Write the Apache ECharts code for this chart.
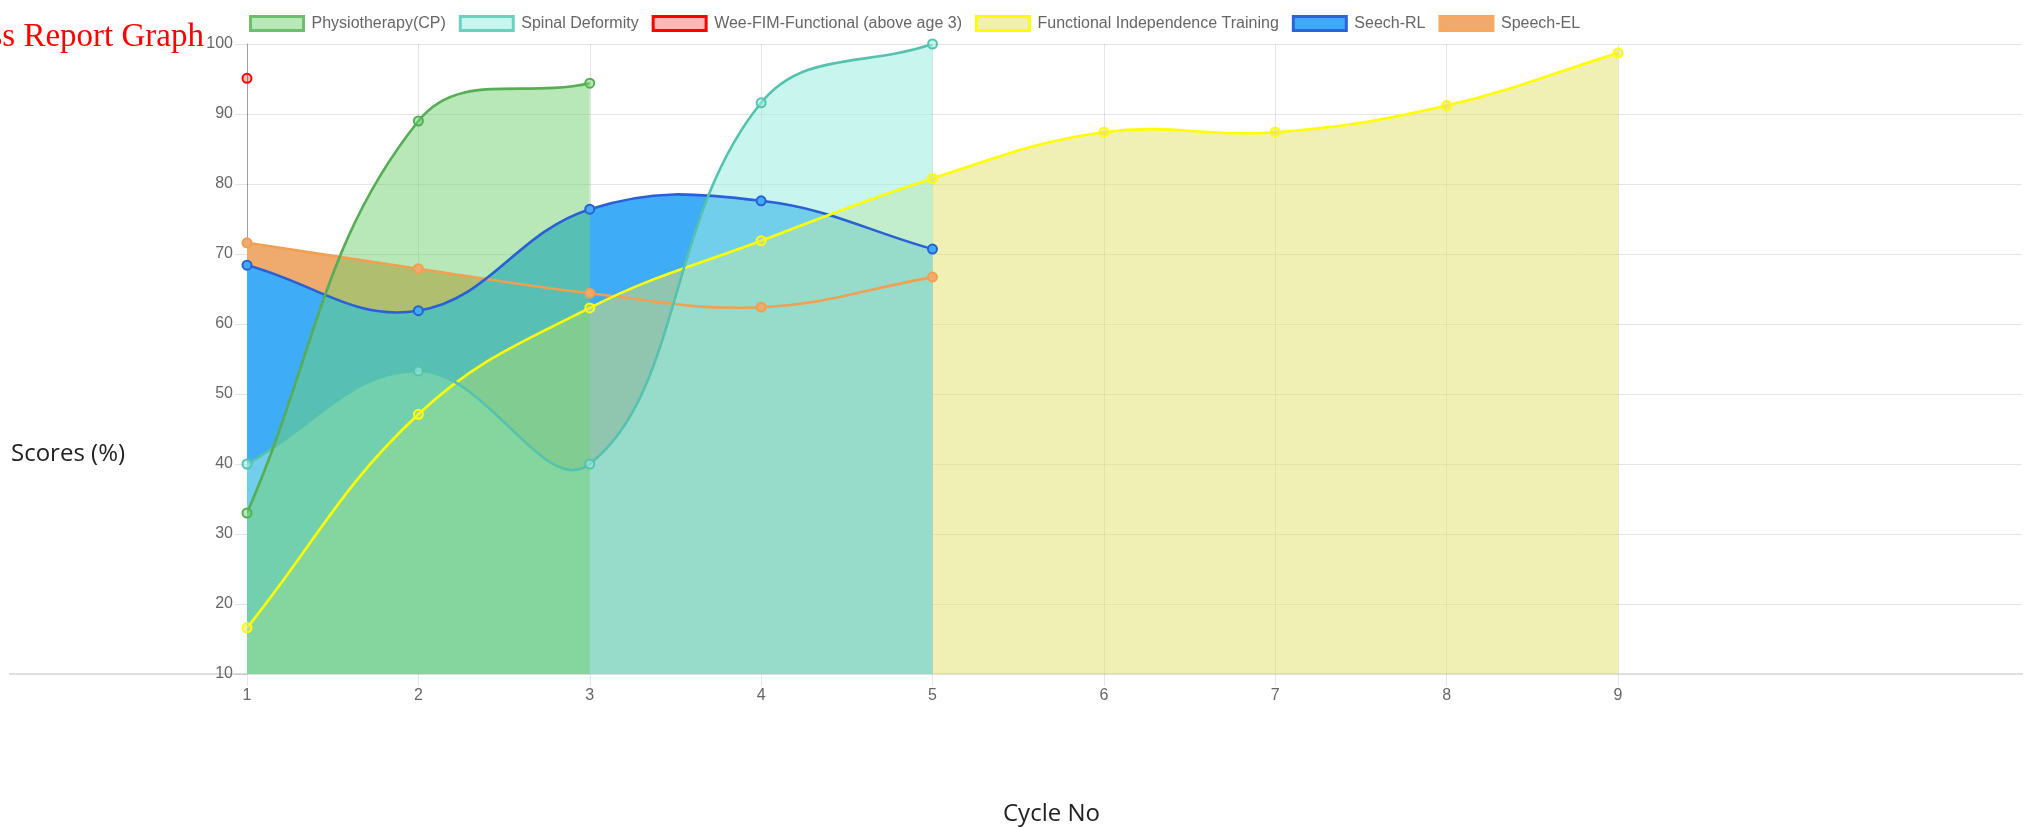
<!DOCTYPE html>
<html>
<head>
<meta charset="utf-8">
<script src="https://cdn.jsdelivr.net/npm/echarts@6/dist/echarts.min.js"></script>
<style>
html,body{margin:0;padding:0;background:#fff;}
#chart{width:2036px;height:827px;}
</style>
</head>
<body>
<div id="chart"></div>
<script>
// ---- data ----
const categories = [1, 2, 3, 4, 5, 6, 7, 8, 9];
const yTicks = [10, 20, 30, 40, 50, 60, 70, 80, 90, 100];
const seriesNames = ['Physiotherapy(CP)', 'Spinal Deformity', 'Wee-FIM-Functional (above age 3)', 'Functional Independence Training', 'Seech-RL', 'Speech-EL'];
const physio = [33, 89, 94.4];
const spinal = [40, 53.3, 40, 91.6, 100];
const weeFim = [95.1];
const fit = [16.6, 47.1, 62.3, 71.9, 80.8, 87.4, 87.4, 91.2, 98.7];
const seechRL = [68.4, 61.9, 76.4, 77.6, 70.7];
const speechEL = [71.6, 67.9, 64.4, 62.4, 66.7];

// ---- styles ----
const styles = {
  'Physiotherapy(CP)': {line: '#56ad56', fill: 'rgba(113,209,113,0.5)', legendFill: '#b8e8b8', legendBorder: '#6cbf6c'},
  'Spinal Deformity': {line: '#55c2ad', fill: 'rgba(157,237,226,0.55)', legendFill: '#c9f5ef', legendBorder: '#6dcfc0'},
  'Wee-FIM-Functional (above age 3)': {line: '#ff0000', fill: 'rgba(255,0,0,0.27)', legendFill: '#f9b9b9', legendBorder: '#ff0000'},
  'Functional Independence Training': {line: '#ffff00', fill: 'rgba(225,223,105,0.5)', legendFill: '#f0efb4', legendBorder: '#ffff00'},
  'Seech-RL': {line: '#2a60d4', fill: 'rgb(62,172,246)', legendFill: '#3eaaf5', legendBorder: '#2b63d9'},
  'Speech-EL': {line: '#f0a050', fill: 'rgb(239,171,110)', legendFill: '#f0aa6e', legendBorder: '#f7a85c'}
};
const dataMap = {
  'Physiotherapy(CP)': physio,
  'Spinal Deformity': spinal,
  'Wee-FIM-Functional (above age 3)': weeFim,
  'Functional Independence Training': fit,
  'Seech-RL': seechRL,
  'Speech-EL': speechEL
};
const TENSION = 0.4;
function pts(arr) { return arr.map((v, i) => [categories[i], v]); }

// Chart.js-like cubic spline through the points, positioned by the axes (api.coord)
function splinePath(arr, api, cs) {
  const p = arr.map((v, i) => api.coord([categories[i], v]));
  const n = p.length;
  const top = cs.y, bottom = cs.y + cs.height;
  const cap = v => Math.max(Math.min(v, bottom), top);
  const cps = p.map((cur, i) => {
    const prev = i > 0 ? p[i - 1] : cur;
    const next = i < n - 1 ? p[i + 1] : cur;
    const d01 = Math.hypot(cur[0] - prev[0], cur[1] - prev[1]);
    const d12 = Math.hypot(next[0] - cur[0], next[1] - cur[1]);
    let s01 = d01 / (d01 + d12), s12 = d12 / (d01 + d12);
    if (isNaN(s01)) s01 = 0; if (isNaN(s12)) s12 = 0;
    const fa = TENSION * s01, fb = TENSION * s12;
    return {
      px: cur[0] - fa * (next[0] - prev[0]), py: cap(cur[1] - fa * (next[1] - prev[1])),
      nx: cur[0] + fb * (next[0] - prev[0]), ny: cap(cur[1] + fb * (next[1] - prev[1]))
    };
  });
  let d = 'M' + p[0][0] + ' ' + p[0][1];
  for (let i = 1; i < n; i++) {
    d += ' C' + cps[i - 1].nx + ' ' + cps[i - 1].ny + ' ' + cps[i].px + ' ' + cps[i].py + ' ' + p[i][0] + ' ' + p[i][1];
  }
  return {d: d, pts: p};
}

function fillSeries(name) {
  const arr = dataMap[name], s = styles[name];
  return {
    name: name, type: 'custom', coordinateSystem: 'cartesian2d', xAxisIndex: 0, yAxisIndex: 0,
    data: pts(arr), silent: true, z: 2, clip: true,
    renderItem: function (params, api) {
      if (params.dataIndex !== 0 || arr.length < 2) return null;
      const r = splinePath(arr, api, params.coordSys);
      const base = api.coord([categories[0], yTicks[0]])[1];
      const d = r.d + ' L' + r.pts[r.pts.length - 1][0] + ' ' + base + ' L' + r.pts[0][0] + ' ' + base + ' Z';
      return {type: 'path', shape: {pathData: d}, style: {fill: s.fill, stroke: null}};
    }
  };
}
function lineSeries(name) {
  const arr = dataMap[name], s = styles[name];
  return {
    name: name, type: 'custom', coordinateSystem: 'cartesian2d', xAxisIndex: 0, yAxisIndex: 0,
    data: pts(arr), silent: true, z: 3, clip: true,
    renderItem: function (params, api) {
      if (params.dataIndex !== 0 || arr.length < 2) return null;
      const r = splinePath(arr, api, params.coordSys);
      return {type: 'path', shape: {pathData: r.d}, style: {fill: 'none', stroke: s.line, lineWidth: 2.6}};
    }
  };
}
function pointSeries(name) {
  const arr = dataMap[name], s = styles[name];
  return {
    name: name, type: 'scatter', xAxisIndex: 0, yAxisIndex: 0, data: pts(arr), z: 4,
    symbol: 'circle', symbolSize: 9,
    itemStyle: {color: s.fill, borderColor: s.line, borderWidth: 2, opacity: 1}
  };
}

// draw order: last dataset at bottom, first on top; all fills below all lines
const drawOrder = seriesNames.slice().reverse();
const series = [];
drawOrder.forEach(n => series.push(fillSeries(n)));
drawOrder.forEach(n => { series.push(lineSeries(n)); });
drawOrder.forEach(n => { series.push(pointSeries(n)); });

const gridTop = 44, gridBottom = 153;
const chart = echarts.init(document.getElementById('chart'), null, {renderer: 'canvas'});
chart.setOption({
  animation: false,
  backgroundColor: '#fff',
  title: [
    {text: 'Progress Report Graph', right: 1832, top: 21, padding: 0,
      textStyle: {fontFamily: 'Liberation Serif', fontSize: 33, fontWeight: 'normal', color: '#ff0000', lineHeight: 33}},
    {text: 'Scores (%)', left: 11, top: 442, padding: 0,
      textStyle: {fontFamily: 'Open Sans', fontSize: 24, fontWeight: 'normal', color: '#222', lineHeight: 24}},
    {text: 'Cycle No', left: 1003, top: 802, padding: 0,
      textStyle: {fontFamily: 'Open Sans', fontSize: 24, fontWeight: 'normal', color: '#222', lineHeight: 24}}
  ],
  legend: {
    left: 249, top: 15, icon: 'rect', itemWidth: 53, itemHeight: 14, itemGap: 13, padding: 0,
    selectedMode: false,
    textStyle: {fontFamily: 'Liberation Sans', fontSize: 16, color: '#666', padding: [0, 0, 0, 3]},
    data: seriesNames.map(n => ({name: n, itemStyle: {color: styles[n].legendFill, borderColor: styles[n].legendBorder, borderWidth: 3}}))
  },
  grid: [
    {left: 247, right: 2036 - 1618, top: gridTop, bottom: gridBottom},
    {left: 247, right: 14, top: gridTop, bottom: gridBottom},
    {left: 10, right: 14, top: gridTop, bottom: gridBottom}
  ],
  xAxis: [
    {gridIndex: 0, type: 'value', min: categories[0], max: categories[categories.length - 1], interval: 1,
      axisLine: {show: false},
      axisTick: {show: true, length: 12, lineStyle: {color: 'rgba(0,0,0,0.1)'}},
      axisLabel: {margin: 14, fontFamily: 'Liberation Sans', fontSize: 16, color: '#666'},
      splitLine: {show: true, lineStyle: {color: 'rgba(0,0,0,0.1)', width: 1}}},
    {gridIndex: 1, type: 'value', min: 0, max: 1, show: false},
    {gridIndex: 2, type: 'value', min: 0, max: 1,
      axisLine: {show: true, lineStyle: {color: '#dedede', width: 2}},
      axisTick: {show: false}, axisLabel: {show: false}, splitLine: {show: false}}
  ],
  yAxis: [
    {gridIndex: 0, type: 'value', min: yTicks[0], max: yTicks[yTicks.length - 1], interval: 10,
      axisLine: {show: true, lineStyle: {color: 'rgba(0,0,0,0.3)', width: 1}},
      axisTick: {show: true, length: 12, lineStyle: {color: 'rgba(0,0,0,0.1)'}},
      axisLabel: {margin: 14, fontFamily: 'Liberation Sans', fontSize: 16, color: '#666'},
      splitLine: {show: false}},
    {gridIndex: 1, type: 'value', min: yTicks[0], max: yTicks[yTicks.length - 1], interval: 10,
      axisLine: {show: false}, axisTick: {show: false}, axisLabel: {show: false},
      splitLine: {show: true, lineStyle: {color: 'rgba(0,0,0,0.1)', width: 1}}},
    {gridIndex: 2, type: 'value', min: 0, max: 1, show: false}
  ],
  series: series
});
</script>
</body>
</html>
